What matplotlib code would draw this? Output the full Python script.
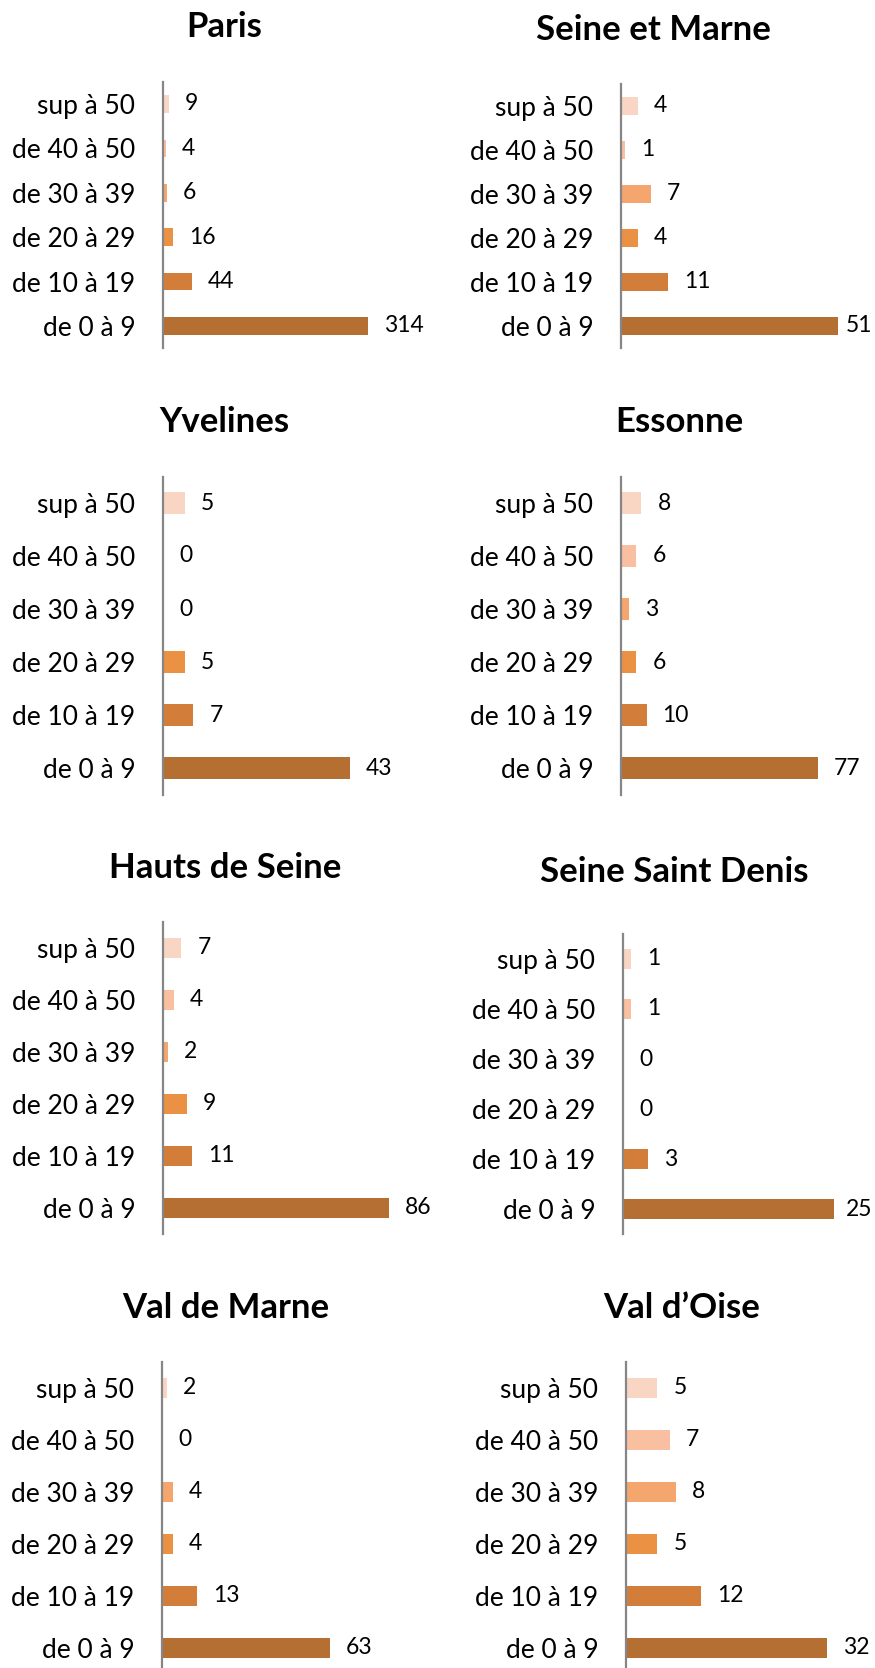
"""Répartition par tranche, départements d'Île-de-France."""
import matplotlib
matplotlib.use("Agg")
import matplotlib.pyplot as plt

plt.rcParams['font.family'] = ['Lato', 'DejaVu Sans']

categories = ["de 0 à 9", "de 10 à 19", "de 20 à 29", "de 30 à 39", "de 40 à 50", "sup à 50"]
bar_colors = ["#B56F33", "#D27E3A", "#EB9143", "#F5A66E", "#F8BFA0", "#F9D5C3"]

titles = ["Paris", "Seine et Marne", "Yvelines", "Essonne",
          "Hauts de Seine", "Seine Saint Denis", "Val de Marne", "Val d’Oise"]
paris = [314, 44, 16, 6, 4, 9]
seine_et_marne = [51, 11, 4, 7, 1, 4]
yvelines = [43, 7, 5, 0, 0, 5]
essonne = [77, 10, 6, 3, 6, 8]
hauts_de_seine = [86, 11, 9, 2, 4, 7]
seine_saint_denis = [25, 3, 0, 0, 1, 1]
val_de_marne = [63, 13, 4, 4, 0, 2]
val_d_oise = [32, 12, 5, 8, 7, 5]
series = [paris, seine_et_marne, yvelines, essonne,
          hauts_de_seine, seine_saint_denis, val_de_marne, val_d_oise]

# axis maximum of each panel
axis_max = [367.6, 56.4, 55.2, 93.8, 91.3, 28.4, 90.0, 38.2]

# layout in pixels: axis x, top bar centre, bottom bar centre, title x, title y
layout = [
    (163, 104, 326, 224, 27),
    (621, 106, 326, 653, 30),
    (163, 503, 768, 224, 422),
    (621, 503, 768, 679, 422),
    (163, 948, 1208, 225, 868),
    (623, 959, 1209, 674, 872),
    (162, 1388, 1648, 226, 1308),
    (626, 1388, 1648, 682, 1308),
]

W, H = 875, 1668
DPI = 100
AX_W = 240
fig = plt.figure(figsize=(W / DPI, H / DPI), dpi=DPI)
value_labels = []

for title, values, xmax, (ax_x, top_c, bot_c, tx, ty) in zip(titles, series, axis_max, layout):
    step = (bot_c - top_c) / 5
    top = top_c - step / 2
    bottom = bot_c + step / 2
    ax = fig.add_axes([ax_x / W, 1 - bottom / H, AX_W / W, (bottom - top) / H])
    y = range(len(categories))
    ax.barh(y, values, height=0.4, color=bar_colors)
    ax.set_xlim(0, xmax)
    ax.set_ylim(-0.5, 5.5)
    ax.set_yticks(list(y))
    ax.set_yticklabels(categories, fontsize=19, color="#000000")
    ax.tick_params(axis="y", length=0, pad=20)
    ax.set_xticks([])
    for side in ["top", "right", "bottom"]:
        ax.spines[side].set_visible(False)
    ax.spines["left"].set_color("#868686")
    ax.spines["left"].set_linewidth(1.6)
    ax.patch.set_visible(False)
    for k, v in enumerate(values):
        lab = ax.annotate(str(v), (v, k), xytext=(16, 0), textcoords="offset pixels",
                          va="center", ha="left", fontsize=16.5, color="#000000",
                          annotation_clip=False)
        value_labels.append(lab)
    fig.text(tx / W, 1 - ty / H, title, ha="center", va="center",
             fontsize=25, fontweight="bold", color="#000000")

# labels running past the right edge are pulled back inside, as Excel does
renderer = fig.canvas.get_renderer()
for lab in value_labels:
    right = lab.get_window_extent(renderer).x1
    if right > W - 3:
        dx, dy = lab.xyann
        lab.xyann = (dx - (right - (W - 3)), dy)

fig.savefig("out.png", dpi=DPI)
